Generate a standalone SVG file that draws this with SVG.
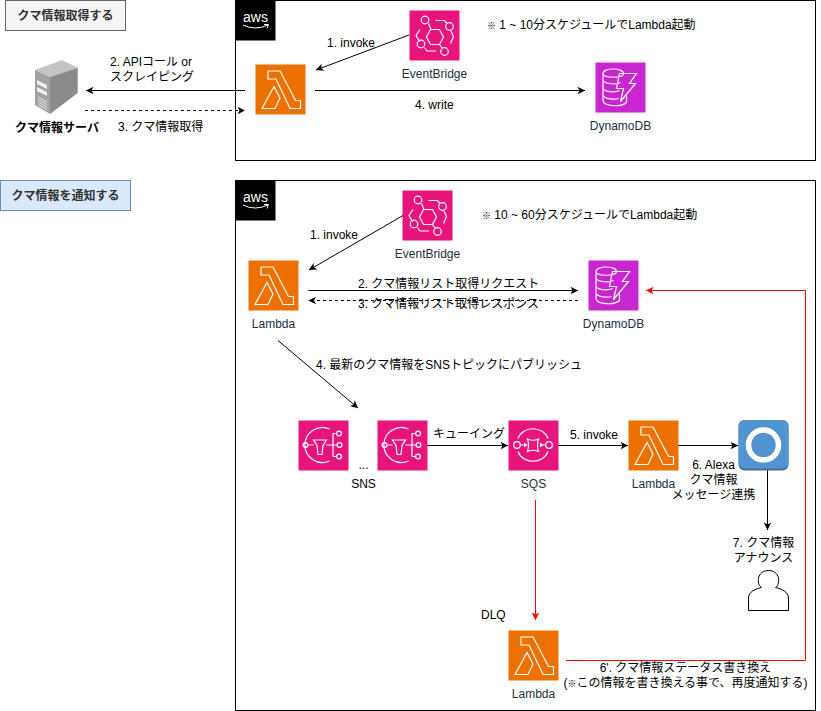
<svg xmlns="http://www.w3.org/2000/svg" xmlns:xlink="http://www.w3.org/1999/xlink" width="821" height="711" viewBox="0 0 821 711">
<style>
text{font-family:"Liberation Sans","Noto Sans CJK JP",sans-serif;font-size:12px;fill:#000}
.m{text-anchor:middle}
.b{font-weight:bold}
.i{fill:#232F3E}
.c{fill:#fff;stroke:#000;stroke-width:1}
.ln{fill:none;stroke:#000;stroke-width:1;marker-end:url(#a)}
.d{stroke-dasharray:3 3}
.rd{fill:none;stroke:#f00;stroke-width:1;marker-end:url(#r)}
.w{fill:none;stroke:#fff;stroke-width:1.2}
.aws{fill:#000}
.s{font-size:9px}
</style>
<defs>
<marker id="a" viewBox="0 0 8 8" refX="7.8" refY="4" markerWidth="8" markerHeight="8" markerUnits="userSpaceOnUse" orient="auto"><path d="M0.3 0.3L8 4L0.3 7.7L2.3 4Z" fill="#000"/></marker>
<marker id="r" viewBox="0 0 8 8" refX="7.8" refY="4" markerWidth="8" markerHeight="8" markerUnits="userSpaceOnUse" orient="auto"><path d="M0.3 0.3L8 4L0.3 7.7L2.3 4Z" fill="#f00"/></marker>
<symbol id="ic-lambda" width="50" height="50" viewBox="0 0 50 50" overflow="visible">
<rect width="50" height="50" fill="#ED7100"/>
<path class="w" d="M12.5 6.500H24.500L40 36H45V44H34.500L20.500 14.500H12.500ZM18.500 22L6.500 44H19.500L24.500 33.500Z"/>
</symbol>
<symbol id="ic-eb" width="50" height="50" viewBox="0 0 50 50" overflow="visible">
<rect width="50" height="50" fill="#E7157B"/>
<path class="w" d="M17 26.500L21 19H30L34 26.500L30 34H21ZM19 13L21.500 19M30 34L33 38M26 10H35L37.500 13M41.500 20.500L44 26L41 33M10.500 19L6.500 25L10 31M15 37L17.500 40.500H26.500"/>
<circle class="w" cx="15.500" cy="9.500" r="3.800"/><circle class="w" cx="40" cy="16" r="3.800"/><circle class="w" cx="11.500" cy="33.500" r="3.800"/><circle class="w" cx="35" cy="41" r="3.800"/>
</symbol>
<symbol id="ic-ddb" width="50" height="50" viewBox="0 0 50 50" overflow="visible">
<rect width="50" height="50" fill="#C925D1"/>
<path class="w" d="M7.500 11C7.500 5 28 5 28 11C28 16 7.500 16 7.500 11ZM7.500 11V38C8 44 26 45 31 40V33M7.500 18C10 22 22 22 25 20M7.500 26C10 30 20 30 24 28M7.500 33C10 37 20 37 23 36M24 11H41L34 21H40L25 39L28 26H21Z"/>
</symbol>
<symbol id="ic-sns" width="50" height="50" viewBox="0 0 50 50" overflow="visible">
<rect width="50" height="50" fill="#E7157B"/>
<path class="w" d="M31 8.500A17.500 17.500 0 1 0 31 40.500M9.500 24.500H15M15 19.500H28L24.500 25L23.500 34H19.500L18.500 25ZM28 24.500H38.500M34.500 13V36M34.500 13H38M34.500 36H38"/>
<circle class="w" cx="7" cy="24.500" r="2.400"/><circle class="w" cx="40.500" cy="13" r="2.400"/><circle class="w" cx="41" cy="24.500" r="2.400"/><circle class="w" cx="40.500" cy="36" r="2.400"/>
</symbol>
<symbol id="ic-sqs" width="50" height="50" viewBox="0 0 50 50" overflow="visible">
<rect width="50" height="50" fill="#E7157B"/>
<path class="w" d="M9.500 18C14 5 35 5 39.500 18M9.500 31C14 44 35 44 39.500 31M19 18.500Q24.500 21 30 18.500Q28 24.500 30 31Q24.500 28.500 19 31Q21 24.500 19 18.500ZM12 24.500H17M32 24.500H37"/>
<path d="M19 24.500L15.500 22V27ZM35 24.500L31.500 22V27Z" fill="#fff"/>
<circle class="w" cx="8.500" cy="24.500" r="3.300"/><circle class="w" cx="40.500" cy="24.500" r="3.300"/>
</symbol>
</defs>
<g id="label-get"><rect x="5.500" y="0.500" width="120" height="30" fill="#f5f5f5" stroke="#666"/><text class="m b" x="65.500" y="19.500" style="fill:#333">クマ情報取得する</text></g>
<g id="label-notify"><rect x="0.500" y="180.500" width="130" height="30" fill="#dae8fc" stroke="#6c8ebf"/><text class="m b" x="65.500" y="199.500" style="fill:#333">クマ情報を通知する</text></g>
<g id="aws-top"><rect x="235.500" y="0.500" width="580" height="160" fill="#fff" stroke="#000"/><rect x="235.500" y="0.500" width="40" height="40" class="aws"/><text class="m" x="255.500" y="22" style="fill:#fff;font-size:14px">aws</text><path d="M243 25Q255 31 268 25M264 24.500L268.500 24.500L267 28.500" fill="none" stroke="#fff" stroke-width="1"/></g>
<g id="aws-bottom"><rect x="235.500" y="180.500" width="580" height="530" fill="#fff" stroke="#000"/><rect x="235.500" y="180.500" width="40" height="40" class="aws"/><text class="m" x="255.500" y="202" style="fill:#fff;font-size:14px">aws</text><path d="M243 205Q255 211 268 205M264 204.500L268.500 204.500L267 208.500" fill="none" stroke="#fff" stroke-width="1"/></g>
<g id="server">
<path d="M35 70L62 60L77.700 67.700L50 77Z" fill="#c4c4c4"/>
<path d="M35 70L50 77V114L35 105Z" fill="#a2a2a2"/>
<path d="M50 77L77.700 67.700V93L50 114Z" fill="#8b8b8b"/>
<path d="M37 80L47 85V89L37 84ZM37 87L47 92V96L37 91Z" fill="#eee"/>
<path d="M38 97L47 102M38 99.500L47 104.500M38 102L47 107M38 104.500L47 109.500" stroke="#e8e8e8" stroke-width="1"/>
<text class="m b" x="57" y="132">クマ情報サーバ</text>
</g>
<g id="lambda-top"><use xlink:href="#ic-lambda" href="#ic-lambda" x="255.500" y="64.500"/></g>
<g id="eventbridge-top"><use xlink:href="#ic-eb" href="#ic-eb" x="409.500" y="10.500"/><text class="m i" x="434.500" y="78">EventBridge</text></g>
<g id="dynamodb-top"><use xlink:href="#ic-ddb" href="#ic-ddb" x="595.500" y="62.500"/><text class="m i" x="620.500" y="130">DynamoDB</text></g>
<g id="lambda-a"><use xlink:href="#ic-lambda" href="#ic-lambda" x="248.500" y="260.500"/><text class="m i" x="273.500" y="328">Lambda</text></g>
<g id="eventbridge-b"><use xlink:href="#ic-eb" href="#ic-eb" x="402.500" y="190.500"/><text class="m i" x="427.500" y="258">EventBridge</text></g>
<g id="dynamodb-b"><use xlink:href="#ic-ddb" href="#ic-ddb" x="588.500" y="260.500"/><text class="m i" x="613.500" y="328">DynamoDB</text></g>
<g id="sns-1"><use xlink:href="#ic-sns" href="#ic-sns" x="298.500" y="420.500"/></g>
<g id="sns-2"><use xlink:href="#ic-sns" href="#ic-sns" x="377.500" y="420.500"/></g>
<g id="sns-label"><text class="m" x="363.500" y="469">...</text><text class="m" x="363.500" y="488">SNS</text></g>
<g id="sqs"><use xlink:href="#ic-sqs" href="#ic-sqs" x="508.500" y="420.500"/><text class="m i" x="533.500" y="488">SQS</text></g>
<g id="lambda-b"><use xlink:href="#ic-lambda" href="#ic-lambda" x="628.500" y="420.500"/><text class="m i" x="653.500" y="488">Lambda</text></g>
<g id="alexa"><rect x="738.500" y="420" width="50" height="50.500" rx="6" fill="#3e6f9e"/><rect x="738.500" y="420" width="50" height="48.500" rx="6" fill="#5294cf"/><circle cx="763.500" cy="445" r="15" fill="none" stroke="#fff" stroke-width="5.500"/></g>
<g id="user"><path class="c" d="M748.500 610.500V598C748.500 592 755 589 761.500 587.500C756 584 757 570.500 768.500 570.500C780 570.500 781 584 775.500 587.500C782 589 788.500 592 788.500 598V610.500Z"/></g>
<g id="lambda-c"><use xlink:href="#ic-lambda" href="#ic-lambda" x="508.500" y="630.500"/><text class="m i" x="533.500" y="698">Lambda</text></g>
<g id="connectors">
<path class="ln" d="M409 35L316 70"/>
<path class="ln" d="M245 90.500H86"/>
<path class="ln d" d="M85 110.500H245"/>
<path class="ln" d="M315 90.500H585"/>
<path class="ln" d="M403 215.500L309 270"/>
<path class="ln" d="M308.500 290.500H578"/>
<path class="ln d" d="M578 300.500H308.500"/>
<path class="ln" d="M278 340.500L358 408"/>
<path class="ln" d="M427.500 445.500H508"/>
<path class="ln" d="M558.500 445.500H628"/>
<path class="ln" d="M678.500 445.500H738"/>
<path class="ln" d="M767.500 470.500V530"/>
<path class="rd" d="M535.500 500V620"/>
<path class="rd" d="M566 660.500H805.500V290.500H646"/>
</g>
<g id="labels">
<text x="327" y="47">1. invoke</text>
<text x="110" y="66">2. APIコール or</text>
<text x="110" y="81">スクレイピング</text>
<text x="118" y="131">3. クマ情報取得</text>
<text x="415" y="109">4. write</text>
<text x="487" y="29"><tspan class="s">※</tspan> 1 ~ 10分スケジュールでLambda起動</text>
<text x="310" y="239">1. invoke</text>
<text x="482" y="219"><tspan class="s">※</tspan> 10 ~ 60分スケジュールでLambda起動</text>
<text x="358" y="288">2. クマ情報リスト取得リクエスト</text>
<text x="358" y="308">3. クマ情報リスト取得レスポンス</text>
<text x="316" y="369">4. 最新のクマ情報をSNSトピックにパブリッシュ</text>
<text x="433" y="438">キューイング</text>
<text x="570" y="439">5. invoke</text>
<text class="m" x="713.500" y="469">6. Alexa</text>
<text class="m" x="713.500" y="484">クマ情報</text>
<text class="m" x="713.500" y="499">メッセージ連携</text>
<text class="m" x="763.500" y="547">7. クマ情報</text>
<text class="m" x="763.500" y="562">アナウンス</text>
<text x="481" y="619">DLQ</text>
<text class="m" x="685.500" y="672">6'. クマ情報ステータス書き換え</text>
<text class="m" x="685.500" y="687">(<tspan class="s">※</tspan>この情報を書き換える事で、再度通知する)</text>
</g>
</svg>
